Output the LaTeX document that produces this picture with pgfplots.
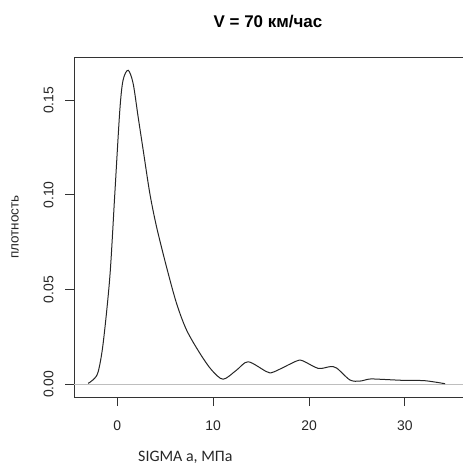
\documentclass[border=0pt]{standalone}
\usepackage{fontspec}
\setmainfont{Liberation Sans}
\newfontfamily\carlito{Carlito}
\usepackage{pgfplots}
\pgfplotsset{compat=1.18}
\definecolor{rgray}{RGB}{190,190,190}
\begin{document}
\begin{tikzpicture}[x=1bp,y=1bp]
\useasboundingbox (0,0) rectangle (463,-464);
\begin{axis}[
  at={(74bp,-397bp)}, anchor=south west,
  scale only axis, width=390bp, height=340bp,
  xmin=-4.52, xmax=36.17, ymin=-0.0067, ymax=0.1728,
  xtick={0,10,20,30}, ytick={0,0.05,0.1,0.15},
  yticklabels={0.00,0.05,0.10,0.15},
  /pgf/number format/assume math mode=true,
  tick align=outside, major tick length=9bp,
  xtick pos=bottom, ytick pos=left,
  axis line style={draw=black!80, line width=0.9bp},
  tick style={draw=black!80, line width=0.9bp},
  ticklabel style={font=\fontsize{14}{16}\selectfont, text=black!85},
  xticklabel style={yshift=-11bp},
  yticklabel style={rotate=90, anchor=south, yshift=8bp},
  clip=true,
]
\addplot[draw=rgray, line width=1bp] coordinates {(-10,0) (40,0)};
\addplot[black!85, line width=1bp, smooth, tension=0.5] coordinates {
(-3.05,0.0005) (-2.5,0.0025) (-2.0,0.0066) (-1.48,0.0216) (-0.78,0.0568)
(-0.26,0.1008) (0.26,0.1447) (0.6,0.1606) (1.13,0.1658) (1.65,0.1588)
(2.17,0.1412) (2.7,0.1236) (3.39,0.1008) (4.09,0.0832) (5.13,0.062)
(6.18,0.0427) (7.22,0.0287) (8.61,0.0164) (9.83,0.0076) (11.04,0.0027)
(12.44,0.0075) (13.65,0.0119) (15.57,0.0067) (16.3,0.0065) (18.7,0.0123)
(19.4,0.0123) (20.96,0.0084) (22.18,0.0093) (22.88,0.0086) (24.27,0.0023)
(25.3,0.0017) (26.35,0.0028) (27.7,0.0026) (29.8,0.0021) (32.1,0.0019)
(34.2,0.0003)};
\end{axis}
\node[anchor=base, font=\bfseries\fontsize{17}{20}\selectfont] at (268,-28) {V = 70 км/час};
\node[rotate=90, anchor=center, font=\fontsize{13.5}{16}\selectfont, text=black!85] at (15,-227) {плотность};
\node[anchor=base west, inner sep=0pt, font=\carlito\fontsize{16}{19}\selectfont, text=black!85] at (138,-461) {SIGMA a, МПа};
\end{tikzpicture}
\end{document}
